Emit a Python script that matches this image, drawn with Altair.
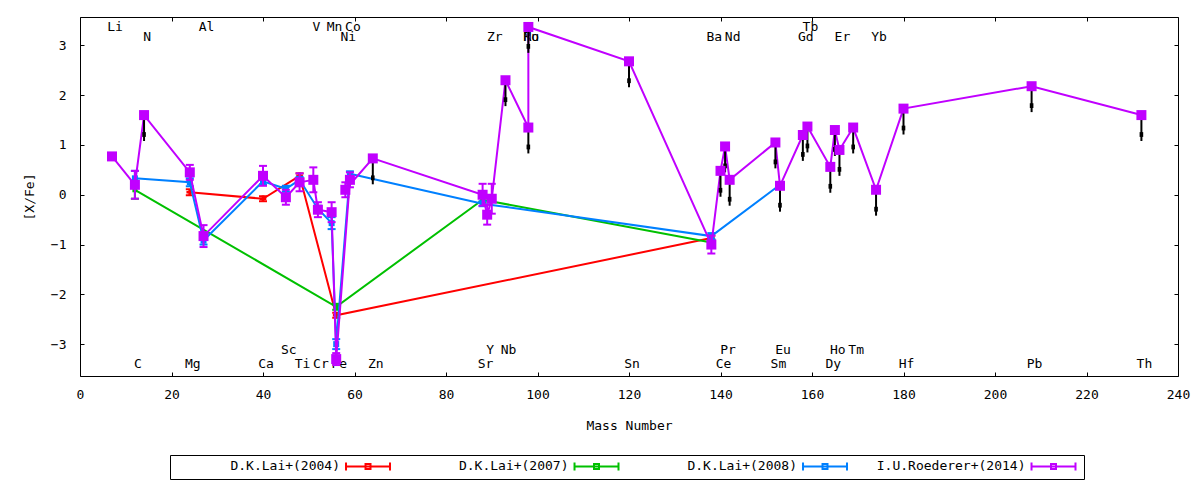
import altair as alt
import pandas as pd

FONT = "DejaVu Sans Mono"
SERIES = ["D.K.Lai+(2004)", "D.K.Lai+(2007)", "D.K.Lai+(2008)", "I.U.Roederer+(2014)"]
COLORS = ["#ff0000", "#00c000", "#0080ff", "#c000ff"]

# D.K.Lai+(2004)
lai04_mass = [24, 40, 48, 56, 138]
lai04_val = [0.05, -0.08, 0.38, -2.42, -0.87]
lai04_err = [0.06, 0.05, 0.05, 0.05, 0.05]

# D.K.Lai+(2007)
lai07_mass = [12, 56, 88, 138]
lai07_val = [0.10, -2.25, -0.10, -0.96]
lai07_err = [0.18, 0.06, 0.05, 0.05]

# D.K.Lai+(2008)
lai08_mass = [12, 24, 27, 40, 45, 48, 52, 55, 56, 59, 88, 138, 153]
lai08_val = [0.33, 0.25, -0.92, 0.27, 0.12, 0.30, -0.28, -0.57, -3.00, 0.42, -0.18, -0.83, 0.20]
lai08_err = [0.15, 0.08, 0.08, 0.06, 0.06, 0.06, 0.06, 0.12, 0.10, 0.05, 0.05, 0.06, 0.05]

# I.U.Roederer+(2014)
roe_elem = ["Li", "C", "N", "Mg", "Al", "Ca", "Sc", "Ti", "V", "Cr", "Mn", "Fe", "Co", "Ni", "Zn",
            "Sr", "Y", "Zr", "Nb", "Mo", "Ru", "Sn", "Ba", "Ce", "Pr", "Nd", "Sm", "Eu", "Gd", "Tb",
            "Dy", "Ho", "Er", "Tm", "Yb", "Hf", "Pb", "Th"]
roe_mass = [7, 12, 14, 24, 27, 40, 45, 48, 51, 52, 55, 56, 59, 58, 64,
            88, 89, 90, 93, 98, 98, 120, 138, 140, 141, 142, 152, 153, 158, 159,
            164, 165, 166, 169, 174, 180, 208, 232]
roe_val = [0.77, 0.20, 1.60, 0.45, -0.83, 0.38, -0.05, 0.25, 0.30, -0.30, -0.35, -3.30, 0.30, 0.10, 0.73,
           0.00, -0.40, -0.08, 2.30, 1.35, 3.37, 2.68, -1.00, 0.48, 0.97, 0.30, 1.05, 0.18, 1.20, 1.37,
           0.56, 1.30, 0.90, 1.35, 0.10, 1.73, 2.18, 1.60]
roe_err = [0.0, 0.28, 0.0, 0.15, 0.22, 0.20, 0.15, 0.18, 0.25, 0.15, 0.20, 0.12, 0.15, 0.15, 0.0,
           0.22, 0.20, 0.30, 0.0, 0.0, 0.0, 0.0, 0.18, 0.0, 0.0, 0.0, 0.0, 0.0, 0.0, 0.0,
           0.0, 0.0, 0.0, 0.0, 0.0, 0.0, 0.0, 0.0]
roe_upper = [0, 0, 1, 0, 0, 0, 0, 0, 0, 0, 0, 0, 0, 0, 1,
             0, 0, 0, 1, 1, 1, 1, 0, 1, 1, 1, 1, 1, 1, 1,
             1, 1, 1, 1, 1, 1, 1, 1]

# element labels (name, mass, row)
label_elem = ["Li", "C", "N", "Mg", "Al", "Ca", "Sc", "Ti", "V", "Cr", "Mn", "Fe", "Co", "Ni", "Zn",
              "Sr", "Y", "Zr", "Nb", "Mo", "Ru", "Sn", "Ba", "Ce", "Pr", "Nd", "Sm", "Eu", "Gd", "Tb",
              "Dy", "Ho", "Er", "Tm", "Yb", "Hf", "Pb", "Th"]
label_mass = [7, 12, 14, 24, 27, 40, 45, 48, 51, 52, 55, 56, 59, 58, 64,
              88, 89, 90, 93, 98, 98, 120, 138, 140, 141, 142, 152, 153, 158, 159,
              164, 165, 166, 169, 174, 180, 208, 232]
label_row = ["t1", "b2", "t2", "b2", "t1", "b2", "b1", "b2", "t1", "b2", "t1", "b2", "t1", "t2", "b2",
             "b2", "b1", "t2", "b1", "t2", "t2", "b2", "t2", "b2", "b1", "t2", "b2", "b1", "t2", "t1",
             "b2", "b1", "t2", "b1", "t2", "b2", "b2", "b2"]

X_TICKS = [0, 20, 40, 60, 80, 100, 120, 140, 160, 180, 200, 220, 240]
Y_TICKS = [-3, -2, -1, 0, 1, 2, 3]

# ---- styling constants ----
ROW_Y = {"t1": 3.36, "t2": 3.16, "b1": -3.12, "b2": -3.40}
ARROW_LEN = 0.52
BLOB_POS = 0.39
CAP = "M-1,0L1,0"
BLOB = "M-0.6,-0.8H0.6V0.8H-0.6Z"
MARKERS = {
    SERIES[0]: ("cross", 45),
    SERIES[1]: ("square", 25),
    SERIES[2]: ("square", 36),
    SERIES[3]: ("square", 100),
}
# legend sample drawn to the right of the (right-aligned) label
LEG_PATH = "M2.17,0H9.5M2.17,-0.67V0.67M9.5,-0.67V0.67M5.42,-0.42H6.25V0.42H5.42Z"

rows = []


def add(name, masses, vals, errs, uppers=None):
    for i, (m, v, e) in enumerate(zip(masses, vals, errs)):
        rows.append(dict(series=name, idx=i, mass=m, val=v, err=e,
                         ul=(uppers[i] if uppers else 0)))


add(SERIES[0], lai04_mass, lai04_val, lai04_err)
add(SERIES[1], lai07_mass, lai07_val, lai07_err)
add(SERIES[2], lai08_mass, lai08_val, lai08_err)
add(SERIES[3], roe_mass, roe_val, roe_err, roe_upper)
df = pd.DataFrame(rows)
df["lo"] = df["val"] - df["err"]
df["hi"] = df["val"] + df["err"]
df["aend"] = df["val"] - ARROW_LEN
df["blob"] = df["val"] - BLOB_POS

caps = pd.concat([
    df[df.err > 0][["series", "mass", "lo"]].rename(columns={"lo": "cap"}),
    df[df.err > 0][["series", "mass", "hi"]].rename(columns={"hi": "cap"}),
])

labels = pd.DataFrame({"elem": label_elem, "mass": label_mass,
                       "ly": [ROW_Y[r] for r in label_row]})

xs = alt.Scale(domain=[0, 240], nice=False, zero=False)
ys = alt.Scale(domain=[-3.64, 3.57], nice=False, zero=False)
cscale = alt.Scale(domain=SERIES, range=COLORS)

LEG = alt.Legend(
    orient="none", legendX=90, legendY=438, direction="horizontal", title=None,
    symbolType=LEG_PATH, symbolSize=144, symbolStrokeWidth=2, symbolOffset=152,
    labelAlign="right", labelOffset=0, labelLimit=400,
    labelFont=FONT, labelFontSize=13, labelColor="black",
    labelExpr="pad(datum.label, 21, '\u00a0', 'right')",
    columnPadding=8.5, padding=4, strokeColor="black", fillColor="white",
    gridAlign="all",
)


def X(f="mass"):
    return alt.X(f"{f}:Q", scale=xs, axis=None)


def Y(f="val"):
    return alt.Y(f"{f}:Q", scale=ys, axis=None)


layers = []

# axes
dummy = pd.DataFrame({"mass": [0.0], "val": [0.0]})
ax_common = dict(grid=False, domain=False, tickColor="black", tickWidth=1)
layers.append(alt.Chart(dummy).mark_point(opacity=0).encode(
    x=alt.X("mass:Q", scale=xs, axis=alt.Axis(
        orient="bottom", values=X_TICKS, tickSize=0, labelPadding=12, labelFlush=False,
        labelOverlap=False, labelFont=FONT, labelFontSize=13, labelColor="black",
        title="Mass Number", titleFont=FONT, titleFontSize=13, titleFontWeight="normal",
        titleColor="black", titlePadding=18, **ax_common)),
    y=alt.Y("val:Q", scale=ys, axis=alt.Axis(
        orient="left", values=Y_TICKS, tickSize=0, labelPadding=14, labelFont=FONT,
        labelFontSize=13, labelColor="black", labelOverlap=False,
        title="[X/Fe]", titleFont=FONT, titleFontSize=13, titleFontWeight="normal",
        titleColor="black", titlePadding=14, **ax_common)),
))
layers.append(alt.Chart(dummy).mark_point(opacity=0).encode(
    x=alt.X("mass:Q", scale=xs, axis=alt.Axis(
        orient="bottom", values=X_TICKS, tickSize=4, offset=-4, labels=False, title="", **ax_common)),
    y=alt.Y("val:Q", scale=ys, axis=alt.Axis(
        orient="left", values=Y_TICKS, tickSize=4, offset=-4, labels=False, title="", **ax_common)),
))
layers.append(alt.Chart(dummy).mark_point(opacity=0).encode(
    x=alt.X("mass:Q", scale=xs, axis=alt.Axis(
        orient="top", values=X_TICKS, tickSize=4, offset=-4, labels=False, title="", **ax_common)),
    y=alt.Y("val:Q", scale=ys, axis=alt.Axis(
        orient="right", values=Y_TICKS, tickSize=4, offset=-4, labels=False, title="", **ax_common)),
))

# element labels
layers.append(alt.Chart(labels).mark_text(
    font=FONT, fontSize=13, color="black", dx=3, align="center", baseline="middle"
).encode(x=X(), y=Y("ly"), text="elem:N"))

for s, c in zip(SERIES, COLORS):
    sub = df[df.series == s]
    esub = sub[sub.err > 0]
    csub = caps[caps.series == s]
    shape, size = MARKERS[s]
    layers.append(alt.Chart(sub).mark_line(strokeWidth=2).encode(
        x=X(), y=Y(), color=alt.Color("series:N", scale=cscale, legend=LEG),
        order=alt.Order("idx:Q")))
    layers.append(alt.Chart(esub).mark_rule(color=c, strokeWidth=2).encode(
        x=X(), y=Y("lo"), y2="hi:Q"))
    layers.append(alt.Chart(csub).mark_point(
        shape=CAP, size=64, filled=False, strokeWidth=2, color=c, opacity=1
    ).encode(x=X(), y=Y("cap")))
    if s == SERIES[3]:
        usub = sub[sub.ul == 1]
        layers.append(alt.Chart(usub).mark_rule(color="black", strokeWidth=2).encode(
            x=X(), y=Y(), y2="aend:Q"))
        layers.append(alt.Chart(usub).mark_point(
            shape=BLOB, size=36, filled=True, color="black", opacity=1
        ).encode(x=X(), y=Y("blob")))
    layers.append(alt.Chart(sub).mark_point(
        shape=shape, size=size, filled=True, color=c, opacity=1
    ).encode(x=X(), y=Y()))

chart = alt.layer(*layers).resolve_axis(x="independent", y="independent").properties(
    width=1098, height=359,
    padding={"left": 72, "top": 9, "right": 14, "bottom": 104},
    autosize=alt.AutoSizeParams(type="none"),
).configure(background="white").configure_view(stroke="black", strokeWidth=1)

chart.save("out.html", embed_options={"renderer": "svg", "actions": False})
